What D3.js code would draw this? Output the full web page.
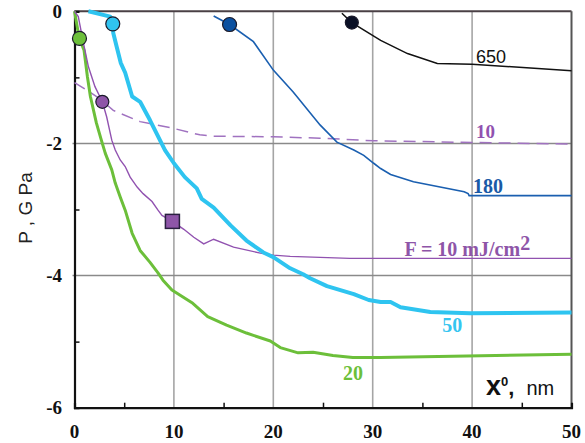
<!DOCTYPE html>
<html>
<head>
<meta charset="utf-8">
<script src="https://cdn.jsdelivr.net/npm/d3@7"></script>
<style>
  body { margin: 0; background: #fff; }
  svg { display: block; }
</style>
</head>
<body>
<div id="chart"></div>
<script>
// tick values
const xTicks = [0, 10, 20, 30, 40, 50];
const xMinor = [5, 15, 25, 35, 45];
const yTicks = [0, -2, -4, -6];
const yMinor = [-1, -3, -5];

// curves, [x0 nm, P GPa]
const curve650 = [[26.9, -0.03], [27.9, -0.17], [30.8, -0.44], [33.5, -0.64], [36.5, -0.79], [40, -0.8], [50, -0.9]];
const curve180 = [[14.0, -0.07], [15.6, -0.2], [18.0, -0.46], [20.0, -0.89], [22.0, -1.22], [24.7, -1.72], [26.4, -1.98],
  [28.1, -2.1], [29.1, -2.18], [30.1, -2.3], [30.8, -2.38], [31.8, -2.47], [34.1, -2.58], [39.2, -2.73], [39.6, -2.76],
  [39.7, -2.79], [50, -2.79]];
const curve50 = [[1.4, 0], [3.6, -0.08], [3.85, -0.19], [3.9, -0.33], [4.25, -0.54], [4.65, -0.78], [5.1, -0.93],
  [5.8, -1.29], [6.6, -1.37], [7.6, -1.65], [9.1, -2.1], [10.0, -2.3], [11.1, -2.51], [12.3, -2.68], [12.8, -2.84],
  [14.0, -2.97], [15.7, -3.24], [17.3, -3.47], [19.0, -3.65], [20.0, -3.72], [21.7, -3.89], [23.0, -3.98], [23.7, -4.04],
  [25.4, -4.16], [28.1, -4.28], [29.6, -4.37], [30.8, -4.4], [31.8, -4.4], [32.8, -4.48], [35.8, -4.55], [39.8, -4.57], [50, -4.56]];
const curve20 = [[0, 0], [0.48, -0.41], [0.96, -0.59], [1.3, -0.99], [1.6, -1.29], [2.2, -1.69], [2.7, -1.95], [3.1, -2.15],
  [3.75, -2.4], [4.1, -2.6], [4.6, -2.81], [5.1, -3.01], [5.8, -3.36], [6.6, -3.62], [7.6, -3.8], [8.4, -3.96], [8.9, -4.07],
  [9.8, -4.22], [11.9, -4.42], [13.4, -4.62], [15.3, -4.75], [17.3, -4.87], [19.7, -4.99], [20.7, -5.09], [22.5, -5.17],
  [24.0, -5.16], [26.0, -5.21], [28.0, -5.24], [30.8, -5.24], [50, -5.19]];
const curveF10 = [[0, 0], [0.38, -0.08], [0.9, -0.48], [1.4, -0.84], [2.06, -1.14], [2.8, -1.37], [3.24, -1.6], [3.75, -1.95],
  [4.1, -2.1], [4.6, -2.25], [5.1, -2.35], [5.6, -2.51], [6.3, -2.66], [6.9, -2.76], [7.8, -2.88], [8.4, -3.01], [8.8, -3.09],
  [9.85, -3.18], [11.0, -3.3], [12.0, -3.42], [13.0, -3.52], [14.0, -3.45], [16.0, -3.57], [18.7, -3.66], [20.0, -3.69],
  [21.7, -3.71], [27.7, -3.74], [50, -3.74]];
const curve10 = [[0, -1.08], [1.2, -1.19], [2.6, -1.33], [3.9, -1.5], [6.6, -1.67], [9.9, -1.77], [12.6, -1.87], [14.0, -1.89],
  [20.0, -1.9], [24.7, -1.92], [30.1, -1.96], [50, -2.01]];

// markers
const mark650 = [27.9, -0.17];
const mark180 = [15.6, -0.2];
const mark50 = [3.85, -0.19];
const mark20 = [0.5, -0.41];
const markF10 = [2.8, -1.37];
const squareF10 = [9.85, -3.18];

const w = 585;
const h = 443;

const svg = d3.select("#chart").append("svg")
  .attr("width", w)
  .attr("height", h);

const x = d3.scaleLinear().domain([0, 50]).range([74.5, 571.5]);
const y = d3.scaleLinear().domain([-6, 0]).range([407.7, 11.3]);

// grid lines
svg.append("g").selectAll("line")
  .data(xTicks.slice(1, -1)).enter().append("line")
  .attr("x1", d => x(d)).attr("x2", d => x(d))
  .attr("y1", y(0)).attr("y2", y(-6))
  .attr("stroke", "#a5a5a5").attr("stroke-width", 1.6);

svg.append("g").selectAll("line")
  .data(yTicks.slice(1, -1)).enter().append("line")
  .attr("x1", x(0) - 2).attr("x2", x(50))
  .attr("y1", d => y(d)).attr("y2", d => y(d))
  .attr("stroke", "#8a8a8a").attr("stroke-width", 1.5);

// frame top and right
svg.append("line").attr("x1", x(0)).attr("x2", x(50)).attr("y1", y(0)).attr("y2", y(0))
  .attr("stroke", "#4a4045").attr("stroke-width", 2);
svg.append("line").attr("x1", x(50)).attr("x2", x(50)).attr("y1", y(0)).attr("y2", y(-6))
  .attr("stroke", "#555").attr("stroke-width", 2);

// axes
const xAxis = d3.axisBottom(x).tickValues(xMinor).tickSize(-5).tickFormat("");
svg.append("g").attr("transform", "translate(0," + y(-6) + ")").call(xAxis)
  .call(g => g.select(".domain").attr("stroke", "#111").attr("stroke-width", 2.2))
  .call(g => g.selectAll(".tick line").attr("stroke", "#111").attr("stroke-width", 1.5));

const yAxis = d3.axisLeft(y).tickValues(yMinor).tickSize(-5).tickFormat("");
svg.append("g").attr("transform", "translate(" + x(0) + ",0)").call(yAxis)
  .call(g => g.select(".domain").attr("stroke", "#111").attr("stroke-width", 2.2))
  .call(g => g.selectAll(".tick line").attr("stroke", "#111").attr("stroke-width", 1.5));

// tick labels
svg.append("g").selectAll("text")
  .data(xTicks).enter().append("text")
  .attr("x", d => x(d)).attr("y", 438)
  .attr("text-anchor", "middle")
  .attr("font-family", "Liberation Serif, serif").attr("font-weight", "bold").attr("font-size", 19)
  .attr("fill", "#111")
  .text(d => d);

svg.append("g").selectAll("text")
  .data(yTicks).enter().append("text")
  .attr("x", 62).attr("y", d => y(d) + 6.5)
  .attr("text-anchor", "end")
  .attr("font-family", "Liberation Serif, serif").attr("font-weight", "bold").attr("font-size", 19)
  .attr("fill", "#111")
  .text(d => d);

// axis titles
svg.append("text")
  .attr("transform", "translate(32,208) rotate(-90)")
  .attr("text-anchor", "middle")
  .attr("font-family", "Liberation Sans, Arial, sans-serif").attr("font-size", 19)
  .attr("fill", "#222")
  .text("P ,  G Pa");

const xt = svg.append("text")
  .attr("x", 486).attr("y", 395)
  .attr("font-family", "Liberation Sans, Arial, sans-serif")
  .attr("fill", "#111");
xt.append("tspan").attr("font-weight", "bold").attr("font-size", 27).text("x");
xt.append("tspan").attr("font-weight", "bold").attr("font-size", 13).attr("dy", -9).text("0");
xt.append("tspan").attr("font-weight", "bold").attr("font-size", 22).attr("dy", 9).text(",");
xt.append("tspan").attr("font-size", 20).attr("dx", 12).text("nm");

// curves
const line = d3.line().x(d => x(d[0])).y(d => y(d[1]));

svg.append("path").datum(curve10).attr("d", line)
  .attr("fill", "none").attr("stroke", "#a072c0").attr("stroke-width", 1.5)
  .attr("stroke-dasharray", "12,7");

svg.append("path").datum(curve650).attr("d", line)
  .attr("fill", "none").attr("stroke", "#111").attr("stroke-width", 1.5);

svg.append("path").datum(curve180).attr("d", line)
  .attr("fill", "none").attr("stroke", "#1a5fb0").attr("stroke-width", 1.6);

svg.append("path").datum(curve20).attr("d", line)
  .attr("fill", "none").attr("stroke", "#6cbf3a").attr("stroke-width", 3)
  .attr("stroke-linejoin", "round");

svg.append("path").datum(curveF10).attr("d", line)
  .attr("fill", "none").attr("stroke", "#9152b0").attr("stroke-width", 1.4);

svg.append("path").datum(curve50).attr("d", line)
  .attr("fill", "none").attr("stroke", "#2ec4f0").attr("stroke-width", 4)
  .attr("stroke-linejoin", "round");

// markers
const circ = (p, r, fill) => svg.append("circle")
  .attr("cx", x(p[0])).attr("cy", y(p[1])).attr("r", r)
  .attr("fill", fill).attr("stroke", "#1a1a2a").attr("stroke-width", 1.2);

circ(mark650, 6.5, "#0a1025");
circ(mark180, 7, "#0a50a0");
circ(mark50, 7, "#30c3f0");
circ(mark20, 7, "#6cbf3a");
circ(markF10, 6.5, "#8e55a8");

svg.append("rect")
  .attr("x", x(squareF10[0]) - 7).attr("y", y(squareF10[1]) - 7)
  .attr("width", 14).attr("height", 14)
  .attr("fill", "#8e55a8").attr("stroke", "#2a2040").attr("stroke-width", 1.5);

// curve labels
svg.append("text").attr("x", x(40.4)).attr("y", y(-0.78))
  .attr("font-family", "Liberation Sans, sans-serif").attr("font-size", 18).attr("fill", "#111")
  .text("650");

const serifLabel = (xv, yv, color, size, txt) => svg.append("text")
  .attr("x", x(xv)).attr("y", y(yv))
  .attr("font-family", "Liberation Serif, serif").attr("font-weight", "bold")
  .attr("font-size", size).attr("fill", color)
  .text(txt);

serifLabel(40.4, -1.915, "#9152b0", 19, "10");
serifLabel(40.1, -2.75, "#1a5aa6", 20, "180");
serifLabel(37.0, -4.86, "#36c5f0", 20, "50");
serifLabel(27.0, -5.58, "#6cbf3a", 20, "20");

const fl = serifLabel(33.2, -3.71, "#8e55a8", 20, "F = 10 mJ/cm");
fl.append("tspan").attr("dy", -6).text("2");
</script>
</body>
</html>
